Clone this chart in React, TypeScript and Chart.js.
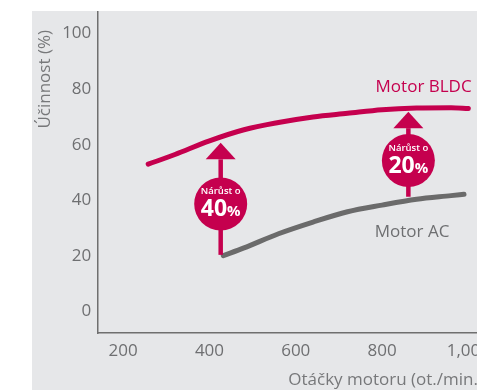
import React, { useEffect, useRef } from "react";
import { Chart, registerables } from "chart.js";

Chart.register(...registerables);

// Efficiency curves (motor speed in rpm -> efficiency in %)
const bldcRpm = [258, 320, 400, 480, 560, 640, 720, 800, 880, 960, 1000];
const bldcEff = [53.0, 56.5, 61.4, 65.4, 68.0, 70.0, 71.3, 72.6, 73.2, 73.3, 73.0];
const acRpm = [432, 480, 560, 640, 720, 800, 880, 960, 990];
const acEff = [20.1, 22.9, 28.0, 32.2, 35.9, 38.3, 40.4, 41.7, 42.2];

// Gain callouts: arrow from the AC curve up to the BLDC curve
const gainRpm = [426, 861];
const gainFrom = [20.4, 41.3];
const gainTo = [60.7, 71.9];
const gainBadgeAt = [38.7, 54.3];
const gainText = ["40", "20"];
const gainCaption = "Nárůst o";

// Series names placed next to the curves
const seriesNames = ["Motor BLDC", "Motor AC"];
const nameRpm = [785, 783];
const nameEff = [79.1, 27.0];

const yTicks = [0, 20, 40, 60, 80, 100];
const xTicks = [200, 400, 600, 800, 1000];
const yTitle = "Účinnost (%)";
const xTitle = "Otáčky motoru (ot./min.)";

const CRIMSON = "#c5004e";
const LINE_GRAY = "#6b6b6b";
const TEXT_GRAY = "#6e6f71";
const FONT = "'Open Sans', sans-serif";

const callouts = {
  id: "callouts",
  afterDatasetsDraw(chart: any) {
    const { ctx, scales } = chart;
    const x = scales.x;
    const y = scales.y;
    ctx.save();

    gainRpm.forEach((rpm, i) => {
      const cx = x.getPixelForValue(rpm);
      const yFrom = y.getPixelForValue(gainFrom[i]);
      const yTip = y.getPixelForValue(gainTo[i]);
      const cy = y.getPixelForValue(gainBadgeAt[i]);
      const headH = 16.5;
      const headW = 15;

      ctx.fillStyle = CRIMSON;
      ctx.strokeStyle = CRIMSON;
      ctx.lineWidth = 4.5;
      ctx.lineCap = "butt";
      ctx.beginPath();
      ctx.moveTo(cx, yFrom);
      ctx.lineTo(cx, yTip + headH);
      ctx.stroke();

      ctx.beginPath();
      ctx.moveTo(cx, yTip);
      ctx.lineTo(cx + headW, yTip + headH);
      ctx.lineTo(cx - headW, yTip + headH);
      ctx.closePath();
      ctx.fill();

      ctx.beginPath();
      ctx.arc(cx, cy, 26.5, 0, Math.PI * 2);
      ctx.fill();

      ctx.fillStyle = "#ffffff";
      ctx.textBaseline = "alphabetic";
      ctx.textAlign = "center";
      ctx.font = `600 9.5px ${FONT}`;
      ctx.fillText(gainCaption, cx, cy - 10);

      ctx.font = `700 23px ${FONT}`;
      const numW = ctx.measureText(gainText[i]).width;
      ctx.font = `700 15px ${FONT}`;
      const pctW = ctx.measureText("%").width;
      const left = cx - (numW + pctW) / 2;
      ctx.textAlign = "left";
      ctx.font = `700 23px ${FONT}`;
      ctx.fillText(gainText[i], left, cy + 12);
      ctx.font = `700 15px ${FONT}`;
      ctx.fillText("%", left + numW, cy + 12);
    });

    ctx.font = `17px ${FONT}`;
    ctx.textAlign = "left";
    ctx.textBaseline = "alphabetic";
    seriesNames.forEach((name, i) => {
      ctx.fillStyle = i === 0 ? CRIMSON : TEXT_GRAY;
      ctx.fillText(name, x.getPixelForValue(nameRpm[i]), y.getPixelForValue(nameEff[i]));
    });

    ctx.restore();
  },
  afterDraw(chart: any) {
    const { ctx, chartArea } = chart;
    ctx.save();
    ctx.fillStyle = "#77787a";
    ctx.font = `17px ${FONT}`;

    // vertical axis title, reading bottom to top, near the top of the axis
    ctx.translate(13, 19);
    ctx.rotate(-Math.PI / 2);
    ctx.textAlign = "right";
    ctx.textBaseline = "middle";
    ctx.fillText(yTitle, 0, 0);
    ctx.setTransform(1, 0, 0, 1, 0, 0);

    // horizontal axis title, right-aligned to the plot edge
    ctx.textAlign = "right";
    ctx.textBaseline = "alphabetic";
    ctx.fillText(xTitle, chartArea.right, 374);
    ctx.restore();
  },
};

export default function App() {
  const ref = useRef<HTMLCanvasElement>(null);

  useEffect(() => {
    if (!ref.current) return;
    const chart = new Chart(ref.current, {
      type: "line",
      data: {
        datasets: [
          {
            label: seriesNames[0],
            data: bldcRpm.map((r, i) => ({ x: r, y: bldcEff[i] })),
            borderColor: CRIMSON,
            borderWidth: 5,
            borderCapStyle: "round",
            cubicInterpolationMode: "monotone",
            pointRadius: 0,
            fill: false,
          },
          {
            label: seriesNames[1],
            data: acRpm.map((r, i) => ({ x: r, y: acEff[i] })),
            borderColor: LINE_GRAY,
            borderWidth: 5,
            borderCapStyle: "round",
            cubicInterpolationMode: "monotone",
            pointRadius: 0,
            fill: false,
          },
        ],
      },
      options: {
        responsive: false,
        animation: false,
        devicePixelRatio: 1,
        layout: { padding: 0, autoPadding: false },
        plugins: {
          legend: { display: false },
          tooltip: { enabled: false },
        },
        scales: {
          x: {
            type: "linear",
            min: 140,
            max: 1034,
            afterFit: (s: any) => {
              s.height = 57;
              s.paddingLeft = 0;
              s.paddingRight = 0;
            },
            afterBuildTicks: (s: any) => {
              s.ticks = xTicks.map((v) => ({ value: v }));
            },
            grid: { display: false, drawTicks: false },
            border: { display: true, color: "#6f6f6f", width: 1.5 },
            ticks: {
              padding: 8,
              color: TEXT_GRAY,
              font: { family: FONT, size: 17 },
              maxRotation: 0,
              autoSkip: false,
              callback: (v: any) => Number(v).toLocaleString("en-US"),
            },
          },
          y: {
            type: "linear",
            min: -7.7,
            max: 108.1,
            afterFit: (s: any) => {
              s.width = 65.3;
              s.paddingTop = 0;
              s.paddingBottom = 0;
            },
            afterBuildTicks: (s: any) => {
              s.ticks = yTicks.map((v) => ({ value: v }));
            },
            grid: { display: false, drawTicks: false },
            border: { display: true, color: "#6f6f6f", width: 1.5 },
            ticks: {
              padding: 6,
              color: TEXT_GRAY,
              font: { family: FONT, size: 17 },
              autoSkip: false,
            },
          },
        },
      },
      plugins: [callouts],
    } as any);
    return () => chart.destroy();
  }, []);

  return (
    <div
      style={{
        position: "fixed",
        left: 0,
        top: 0,
        width: "100vw",
        height: "100vh",
        overflow: "hidden",
        background: "#ffffff",
      }}
    >
      <div
        style={{
          position: "absolute",
          left: 32,
          top: 11,
          width: 470,
          height: 379,
          background: "#e6e7e9",
        }}
      >
        <canvas
          ref={ref}
          width={451}
          height={379}
          style={{ display: "block", width: 451, height: 379 }}
        />
      </div>
    </div>
  );
}
